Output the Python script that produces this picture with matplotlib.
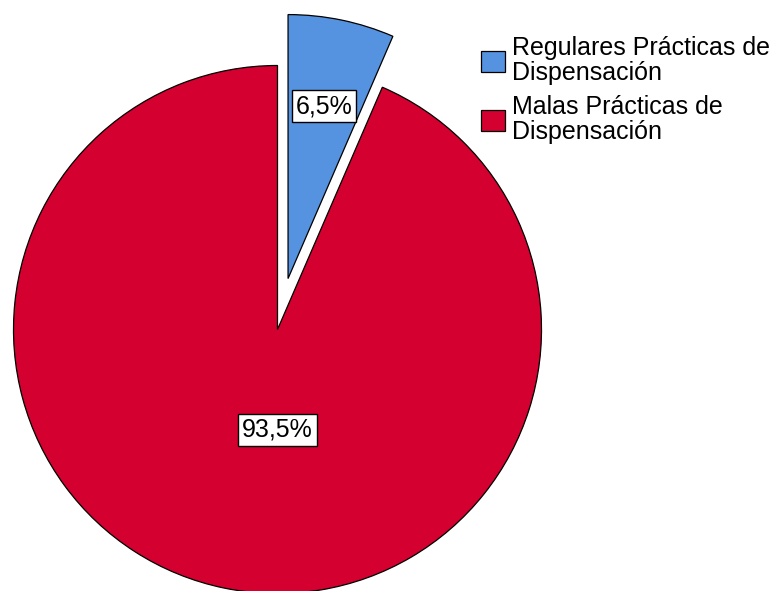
import numpy as np
import matplotlib.pyplot as plt

labels = ['Regulares Prácticas de\nDispensación', 'Malas Prácticas de\nDispensación']
percent = [6.5, 93.5]
pct_text = ['6,5%', '93,5%']
colors = ['#5593e0', '#d40030']

plt.rcParams['font.family'] = ['Liberation Sans', 'DejaVu Sans']

fig = plt.figure(figsize=(7.74, 5.91), dpi=100)
ax = fig.add_axes([0, 0, 1, 1])

# pixel-like data units: centre and radius of the pie
cx, cy, r = 277.5, 261.5, 264
wedges, _ = ax.pie(percent, colors=colors, startangle=90, counterclock=False,
                   explode=[52, 0], center=(cx, cy), radius=r, frame=True,
                   wedgeprops=dict(edgecolor='black', linewidth=0.9))
ax.set_xlim(0, 774)
ax.set_ylim(0, 591)
ax.set_aspect('equal')
ax.axis('off')

box = dict(boxstyle='square,pad=0.15', fc='white', ec='black', lw=1)

# small slice label along its mid angle, big slice label below centre
w = wedges[0]
mid = np.deg2rad((w.theta1 + w.theta2) / 2)
ax.text(w.center[0] + 0.667 * r * np.cos(mid), w.center[1] + 0.667 * r * np.sin(mid),
        pct_text[0], ha='center', va='center', fontsize=18, bbox=box)
ax.text(cx, cy - 0.38 * r, pct_text[1], ha='center', va='center', fontsize=18, bbox=box)

leg = fig.legend(wedges, labels, loc='upper left', bbox_to_anchor=(481 / 774, 1 - 36 / 591),
                 frameon=False, fontsize=18, handlelength=0.95, handleheight=0.95,
                 handletextpad=0.3, labelspacing=0.4, borderpad=0, borderaxespad=0)
for t in leg.get_texts():
    t.set_linespacing(1.05)

fig.savefig('out.png', dpi=100)
